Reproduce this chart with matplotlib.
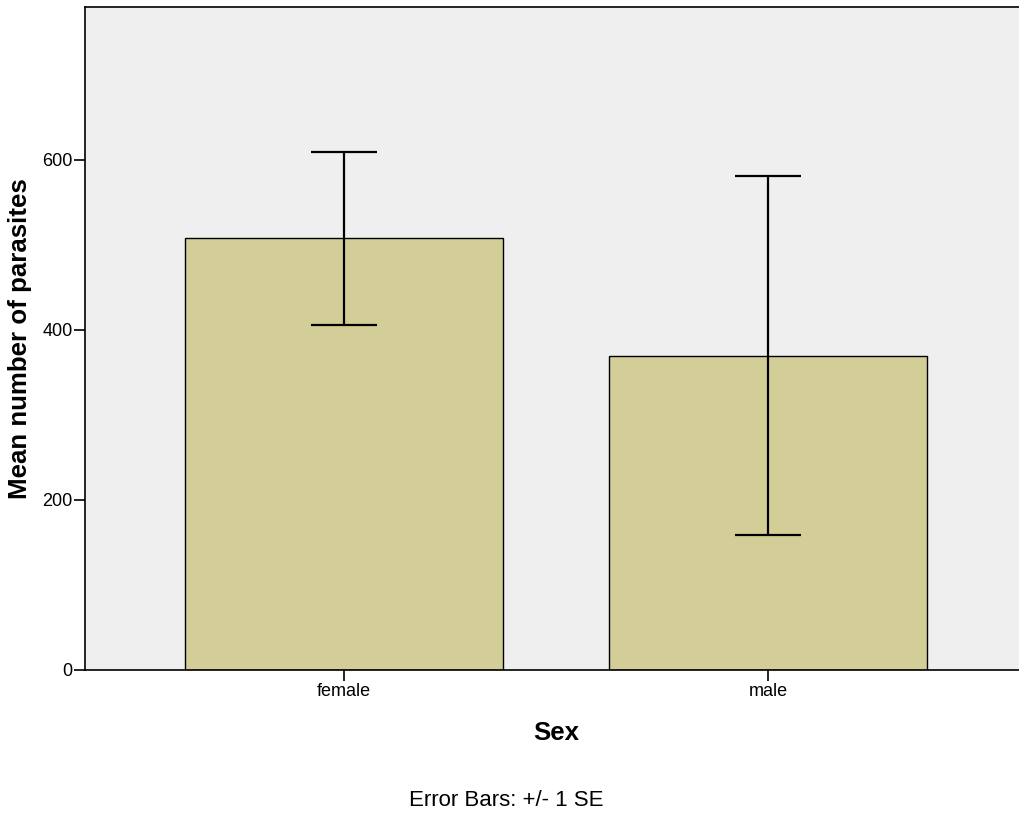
import numpy as np
import matplotlib
matplotlib.use("Agg")
import matplotlib.pyplot as plt

plt.rcParams["font.family"] = ["Liberation Sans", "DejaVu Sans"]

# data
sexes = ["female", "male"]
mean_parasites = [508, 370]
se_parasites = [102, 211]
y_ticks = [0, 200, 400, 600]

fig = plt.figure(figsize=(10.19, 8.14), dpi=100)
ax = fig.add_axes([85 / 1019, 1 - 670 / 814, 934 / 1019, 663 / 814])
ax.set_facecolor("#EFEFEF")

x = np.arange(len(sexes))
ax.bar(x, mean_parasites, width=0.75, color="#D3CE98", edgecolor="black",
       linewidth=1.0, zorder=2)
ax.errorbar(x, mean_parasites, yerr=se_parasites, fmt="none", ecolor="black",
            elinewidth=1.6, capsize=23.8, capthick=1.6, zorder=3)

ax.set_xlim(-0.611, 1.592)
ax.set_ylim(0, 780)
ax.set_xticks(x)
ax.set_xticklabels(sexes)
ax.set_yticks(y_ticks)
ax.tick_params(axis="both", labelsize=13, length=8, width=1.2, pad=1,
               direction="out")

for side in ["left", "top", "bottom"]:
    ax.spines[side].set_linewidth(1.2)
ax.spines["right"].set_visible(False)

ax.set_ylabel("Mean number of parasites", fontsize=18.6, fontweight="bold",
              va="center")
ax.yaxis.set_label_coords((20 - 85) / 934, 0.5)
ax.set_xlabel("Sex", fontsize=18.6, fontweight="bold", va="center")
ax.xaxis.set_label_coords(0.504, (670 - 733) / 663)

fig.text(506 / 1019, 1 - 800 / 814, "Error Bars: +/- 1 SE", fontsize=16,
         ha="center", va="center")

fig.savefig("out.png", dpi=100)
